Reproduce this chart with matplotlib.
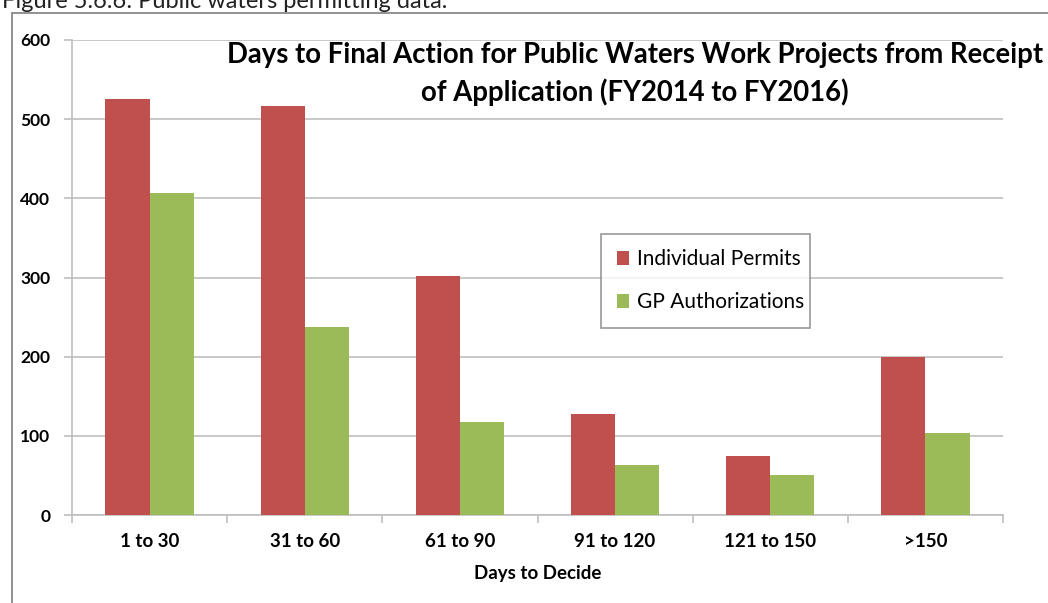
import matplotlib.pyplot as plt
import numpy as np
from matplotlib.patches import Rectangle

categories = ['1 to 30', '31 to 60', '61 to 90', '91 to 120', '121 to 150', '>150']
individual_permits = [525, 517, 302, 128, 75, 200]
gp_authorizations = [407, 237, 118, 63, 50, 103]

red = '#C0504D'
green = '#9BBB59'

plt.rcParams['font.family'] = ['Lato', 'DejaVu Sans']

fig = plt.figure(figsize=(10.48, 6.03), dpi=100)
W, H = 1048, 603

# caption, cut off at the top of the page like in the source
fig.text(2 / W, 1 - 8 / H, 'Figure 5.6.6: Public waters permitting data.',
         fontsize=17, color='#222222', va='baseline', ha='left')

# chart border
fig.patches.append(Rectangle((12 / W, -0.1), 1.2, 1 - 13 / H + 0.1,
                             transform=fig.transFigure, fill=False,
                             edgecolor='#7f7f7f', linewidth=1.2))

ax = fig.add_axes([72 / W, 1 - 515 / H, (1003 - 72) / W, (515 - 40) / H])

x = np.arange(len(categories))
w = 0.285
ax.bar(x - w / 2, individual_permits, w, color=red, label='Individual Permits', zorder=3)
ax.bar(x + w / 2, gp_authorizations, w, color=green, label='GP Authorizations', zorder=3)

ax.set_xlim(-0.5, len(categories) - 0.5)
ax.set_ylim(0, 600)
ax.set_yticks(range(0, 601, 100))
ax.yaxis.grid(True, color='#bfbfbf', linewidth=1.2, zorder=0)
ax.set_xticks(x)
ax.set_xticklabels(categories, fontsize=13.5, fontweight='bold')
ax.set_xticks(np.arange(-0.5, len(categories)), minor=True)
ax.tick_params(axis='x', which='major', length=0, pad=13)
ax.tick_params(axis='x', which='minor', length=6, color='#bfbfbf', width=1.2)
ax.tick_params(axis='y', length=6, color='#bfbfbf', width=1.2, labelsize=12.5, pad=9.5)
for lab in ax.get_yticklabels():
    lab.set_fontweight('bold')

for s in ['top', 'right']:
    ax.spines[s].set_visible(False)
for s in ['left', 'bottom']:
    ax.spines[s].set_color('#bfbfbf')
    ax.spines[s].set_linewidth(1.2)

ax.set_xlabel('Days to Decide', fontsize=13.5, fontweight='bold', labelpad=11)

fig.text(635 / W, 1 - 74 / H,
         'Days to Final Action for Public Waters Work Projects from Receipt\nof Application (FY2014 to FY2016)',
         fontsize=19.8, fontweight='bold', ha='center', va='center', linespacing=1.45)

leg = ax.legend(loc='lower left', bbox_to_anchor=((601 - 72) / 931, (515 - 328) / 475, 209 / 931, 95 / 475),
                mode='expand', fontsize=15, frameon=True, fancybox=False,
                handlelength=0.6, handleheight=0.6, labelspacing=1.1, borderpad=0.75,
                handletextpad=0.4, borderaxespad=0)
leg.get_frame().set_edgecolor('#7f7f7f')
leg.get_frame().set_linewidth(1.2)

fig.savefig('out.png', dpi=100)
